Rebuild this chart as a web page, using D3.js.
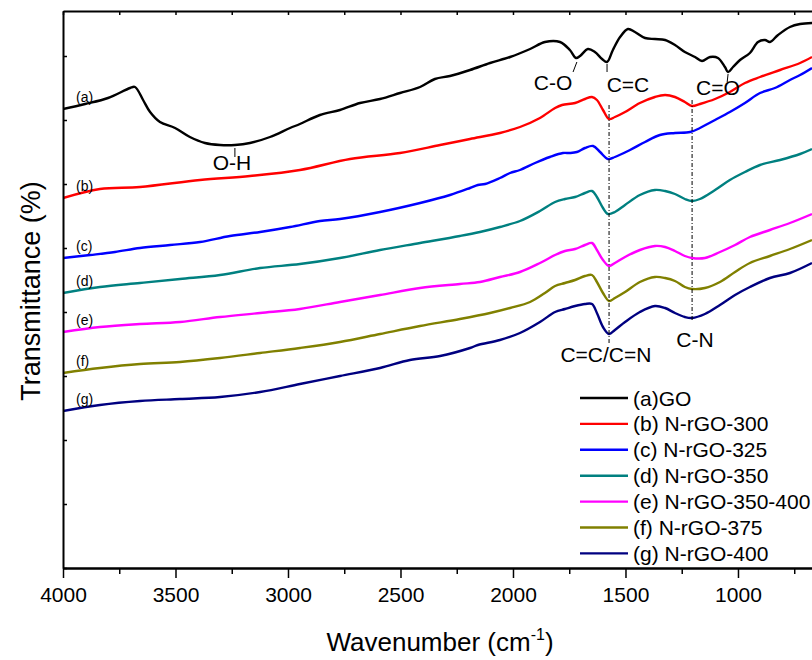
<!DOCTYPE html>
<html>
<head>
<meta charset="utf-8">
<script src="https://cdn.jsdelivr.net/npm/d3@7"></script>
<style>
  body { margin: 0; background: #fff; }
  svg { font-family: Arial, "Liberation Sans", sans-serif; }
</style>
</head>
<body>
<svg id="chart" width="812" height="660"></svg>
<script>
// [wavenumber (cm-1), transmittance (a.u., offset)]
var goData = [[4000,45.9],[3902,46.4],[3800,47.0],[3702,48.0],[3680,48.1],[3644,46.8],[3613,45.6],[3569,44.6],[3502,44.0],[3436,43.1],[3369,42.5],[3302,42.3],[3236,42.3],[3169,42.5],[3080,43.1],[2991,44.0],[2947,44.4],[2858,45.3],[2769,45.8],[2680,46.5],[2591,46.9],[2502,47.5],[2413,48.1],[2347,48.9],[2280,49.2],[2191,49.8],[2102,50.5],[2013,51.1],[1924,51.9],[1858,52.6],[1791,52.6],[1747,51.8],[1720,51.0],[1702,51.2],[1667,51.9],[1636,51.6],[1604,50.9],[1582,50.6],[1556,51.8],[1524,53.1],[1489,53.9],[1458,53.6],[1413,53.0],[1369,52.9],[1324,52.8],[1280,52.3],[1236,51.6],[1191,51.1],[1160,50.7],[1124,51.1],[1089,51.0],[1058,50.1],[1044,49.6],[1022,50.1],[991,50.8],[947,51.5],[911,52.6],[880,52.8],[858,52.6],[822,53.3],[769,54.1],[724,54.4],[671,54.5]];
var rgo300 = [[4000,37.0],[3836,37.9],[3658,38.1],[3391,38.8],[3169,39.2],[2947,39.8],[2724,40.9],[2502,41.5],[2324,42.3],[2191,42.9],[2058,43.5],[1969,44.1],[1880,45.0],[1813,46.0],[1782,46.3],[1724,46.5],[1680,46.9],[1649,47.1],[1627,46.8],[1600,45.8],[1573,44.9],[1547,45.1],[1502,45.6],[1436,46.5],[1369,47.1],[1324,47.3],[1280,47.1],[1236,46.6],[1204,46.2],[1169,46.4],[1102,46.9],[1036,47.6],[969,48.5],[902,49.1],[813,49.8],[724,50.5],[671,51.1]];
var rgo325 = [[4000,31.0],[3880,31.3],[3769,31.6],[3658,32.0],[3524,32.3],[3391,32.6],[3258,33.2],[3124,33.6],[2991,34.1],[2858,34.7],[2769,34.9],[2591,35.6],[2413,36.5],[2280,37.3],[2191,38.0],[2156,38.3],[2124,38.4],[2058,39.0],[2013,39.5],[1969,39.8],[1902,40.5],[1836,41.1],[1778,41.5],[1747,41.5],[1716,41.6],[1680,42.0],[1644,42.2],[1613,41.6],[1578,40.9],[1547,41.1],[1480,41.8],[1413,42.6],[1347,43.3],[1280,43.5],[1213,43.6],[1169,44.0],[1102,44.8],[1036,45.6],[969,46.5],[902,47.5],[836,48.0],[769,48.8],[724,49.3],[671,50.0]];
var rgo350 = [[4000,27.5],[3836,28.1],[3658,28.5],[3480,28.9],[3302,29.3],[3124,30.0],[2947,30.4],[2769,31.0],[2591,31.8],[2413,32.5],[2236,33.2],[2147,33.6],[2058,34.1],[1969,34.7],[1880,35.7],[1813,36.6],[1769,36.9],[1724,37.1],[1680,37.5],[1649,37.7],[1627,37.1],[1600,36.0],[1578,35.4],[1547,35.6],[1502,36.3],[1436,37.3],[1369,37.8],[1324,37.7],[1280,37.4],[1236,36.9],[1204,36.7],[1169,36.9],[1102,37.8],[1036,38.8],[969,39.6],[902,40.3],[813,40.8],[724,41.4],[671,41.9]];
var rgo350400 = [[4000,23.6],[3836,24.1],[3658,24.4],[3480,24.6],[3302,25.1],[3124,25.5],[2947,25.9],[2769,26.6],[2591,27.3],[2413,28.0],[2236,28.4],[2147,28.6],[2058,29.1],[1969,29.6],[1880,30.5],[1813,31.3],[1769,31.7],[1724,31.9],[1680,32.3],[1649,32.5],[1627,31.8],[1600,30.8],[1573,30.2],[1547,30.5],[1502,31.1],[1436,31.8],[1369,32.2],[1324,32.1],[1280,31.7],[1236,31.2],[1204,31.0],[1147,31.0],[1080,31.6],[1013,32.3],[947,33.1],[858,33.8],[769,34.5],[671,35.4]];
var rgo375 = [[4000,19.5],[3836,20.0],[3658,20.4],[3480,20.6],[3302,21.0],[3124,21.5],[2947,22.0],[2769,22.6],[2591,23.4],[2413,24.2],[2236,24.9],[2102,25.5],[2013,26.0],[1924,26.6],[1858,27.5],[1813,28.2],[1769,28.5],[1724,28.8],[1680,29.2],[1649,29.3],[1627,28.6],[1600,27.5],[1573,26.7],[1547,27.0],[1502,27.6],[1436,28.6],[1369,29.1],[1324,29.0],[1280,28.7],[1236,28.1],[1204,27.9],[1147,28.0],[1080,28.6],[1013,29.6],[947,30.5],[858,31.2],[769,31.9],[671,32.8]];
var rgo400 = [[4000,15.7],[3836,16.3],[3658,16.7],[3480,16.9],[3302,17.1],[3124,17.6],[2947,18.4],[2769,19.2],[2591,20.0],[2458,20.8],[2324,21.2],[2191,22.0],[2156,22.3],[2058,22.8],[1969,23.5],[1880,24.6],[1813,25.6],[1769,25.9],[1724,26.2],[1680,26.4],[1649,26.4],[1627,25.5],[1600,24.1],[1573,23.4],[1547,23.8],[1502,24.6],[1436,25.6],[1369,26.2],[1324,26.0],[1280,25.5],[1236,25.1],[1204,25.0],[1147,25.4],[1080,26.3],[1013,27.3],[947,28.1],[858,29.0],[769,29.5],[671,30.5]];

var seriesNames = ["(a)GO", "(b) N-rGO-300", "(c) N-rGO-325", "(d) N-rGO-350", "(e) N-rGO-350-400", "(f) N-rGO-375", "(g) N-rGO-400"];
var seriesTags = ["(a)", "(b)", "(c)", "(d)", "(e)", "(f)", "(g)"];
var seriesColors = ["#000000", "#ff0000", "#0000ff", "#008080", "#ff00ff", "#808000", "#000080"];
var seriesData = [goData, rgo300, rgo325, rgo350, rgo350400, rgo375, rgo400];

var xMajorTicks = [4000, 3500, 3000, 2500, 2000, 1500, 1000];
var xMinorTicks = [3750, 3250, 2750, 2250, 1750, 1250, 750];
var yTicks = d3.range(0, 56, 6.4);

// band labels: [text, wavenumber of label centre, transmittance of label baseline]
var bandLabels = [["O-H", 3249, 39.8], ["C-O", 1822, 47.8], ["C=C", 1489, 47.6], ["C=O", 1089, 47.3], ["C=C/C=N", 1587, 20.6], ["C-N", 1191, 22.1]];
// short pointer lines: [wavenumber top, wavenumber bottom, transmittance top, transmittance bottom]
var bandTicks = [[3236, 3236, 42.2, 41.3], [1716, 1733, 50.8, 49.8], [1582, 1582, 50.6, 49.8], [1044, 1048, 49.6, 48.8]];
var dashLines = [[1573, 46.3, 22.5], [1204, 46.8, 24.8]];

(function() {
var svg = d3.select("#chart");
var mLeft = 63, mRight = 812, mTop = 11, mBottom = 568;

var x = d3.scaleLinear().domain([4000, 671]).range([mLeft, mRight]);
var y = d3.scaleLinear().domain([0, 55.7]).range([mBottom, mTop]);

svg.append("clipPath").attr("id", "plotclip")
  .append("rect").attr("x", mLeft).attr("y", mTop).attr("width", mRight - mLeft).attr("height", mBottom - mTop);

var line = d3.line()
  .x(d => x(d[0]))
  .y(d => y(d[1]))
  .curve(d3.curveCatmullRom.alpha(0.5));

var plot = svg.append("g").attr("clip-path", "url(#plotclip)");

seriesData.forEach(function(data, i) {
  plot.append("path")
    .datum(data)
    .attr("d", line)
    .attr("fill", "none")
    .attr("stroke", seriesColors[i])
    .attr("stroke-width", 2.4)
    .attr("stroke-linejoin", "round");
});

// curve tags at the left
seriesData.forEach(function(data, i) {
  svg.append("text")
    .attr("x", 76)
    .attr("y", y(data[0][1]) - 7)
    .attr("font-size", 14)
    .text(seriesTags[i]);
});

// dash-dot guide lines
dashLines.forEach(function(d) {
  svg.append("line")
    .attr("x1", x(d[0])).attr("x2", x(d[0]))
    .attr("y1", y(d[1])).attr("y2", y(d[2]))
    .attr("stroke", "#000").attr("stroke-width", 1)
    .attr("stroke-dasharray", "4,2,1,2");
});

bandTicks.forEach(function(d) {
  svg.append("line")
    .attr("x1", x(d[0])).attr("x2", x(d[1]))
    .attr("y1", y(d[2]) + 2).attr("y2", y(d[3]) + 2)
    .attr("stroke", "#000").attr("stroke-width", 1);
});

bandLabels.forEach(function(d) {
  svg.append("text")
    .attr("x", x(d[1]))
    .attr("y", y(d[2]))
    .attr("text-anchor", "middle")
    .attr("font-size", 21)
    .text(d[0]);
});

// axes
var bottomAxis = svg.append("g")
  .attr("transform", "translate(0," + mBottom + ")")
  .call(d3.axisBottom(x).tickValues(xMajorTicks).tickSize(10).tickSizeOuter(0).tickPadding(9).tickFormat(d3.format("d")));
bottomAxis.selectAll("text").attr("font-size", 21).attr("fill", "#000").style("font-family", "Arial, 'Liberation Sans', sans-serif");

svg.append("g")
  .attr("transform", "translate(0," + mBottom + ")")
  .call(d3.axisBottom(x).tickValues(xMinorTicks).tickSize(6).tickSizeOuter(0).tickFormat(""));

svg.append("g")
  .attr("transform", "translate(0," + mTop + ")")
  .call(d3.axisTop(x).tickValues(xMajorTicks.concat(xMinorTicks)).tickSize(-4).tickSizeOuter(0).tickFormat(""));

svg.append("g")
  .attr("transform", "translate(" + mLeft + ",0)")
  .call(d3.axisLeft(y).tickValues(yTicks).tickSize(-4).tickSizeOuter(0).tickFormat(""));

svg.selectAll(".domain").attr("stroke", "#000").attr("stroke-width", 2);
svg.selectAll(".tick line").attr("stroke", "#000").attr("stroke-width", 1.5);

// axis titles
var xTitle = svg.append("text")
  .attr("x", 440).attr("y", 651)
  .attr("text-anchor", "middle")
  .attr("font-size", 26);
xTitle.append("tspan").text("Wavenumber (cm");
xTitle.append("tspan").attr("font-size", 16).attr("dy", -11).text("-1");
xTitle.append("tspan").attr("dy", 11).text(")");

svg.append("text")
  .attr("transform", "translate(40,291) rotate(-90)")
  .attr("text-anchor", "middle")
  .attr("font-size", 27)
  .text("Transmittance (%)");

// legend
var legend = svg.append("g").attr("transform", "translate(580,398)");
seriesNames.forEach(function(name, i) {
  var row = legend.append("g").attr("transform", "translate(0," + (i * 25.9) + ")");
  row.append("line").attr("x1", 0).attr("x2", 48).attr("y1", 0).attr("y2", 0)
    .attr("stroke", seriesColors[i]).attr("stroke-width", 2.4);
  row.append("text").attr("x", 53).attr("y", 7.5).attr("font-size", 21).text(name);
});
})();
</script>
</body>
</html>
